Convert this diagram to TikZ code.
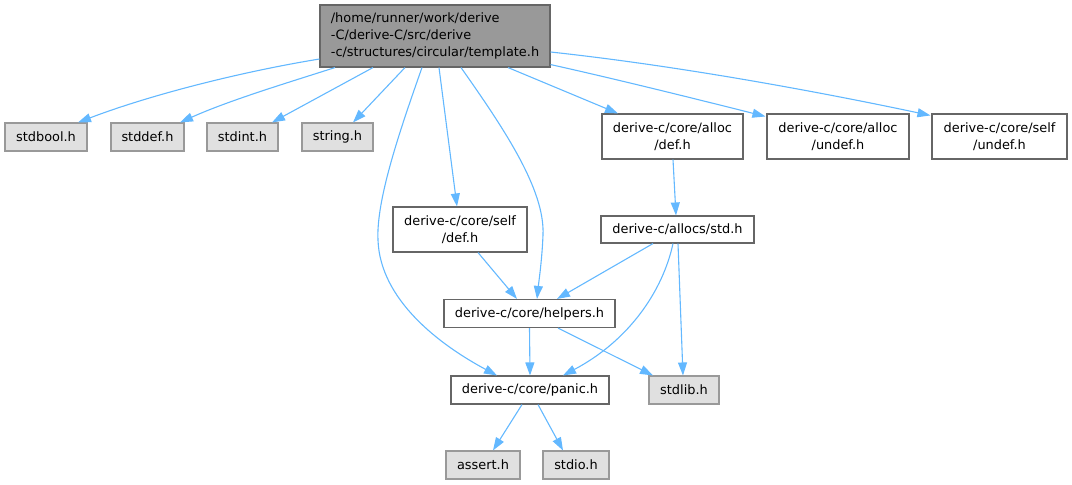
\documentclass[tikz,border=0pt]{standalone}
\usepackage{fontspec}
\setmainfont{DejaVu Sans}
\usetikzlibrary{arrows.meta,calc}
\definecolor{edgec}{HTML}{63B8FF}
\definecolor{boxline}{HTML}{666666}
\definecolor{sysline}{HTML}{999999}
\definecolor{sysfill}{HTML}{E0E0E0}
\definecolor{mainfill}{HTML}{999999}
\begin{document}
\begin{tikzpicture}[x=1pt,y=-1pt,
  every node/.style={font=\fontsize{12.9}{17}\selectfont, inner sep=0pt, line width=1.1pt},
  filebox/.style={draw=boxline, fill=white, align=center},
  sysbox/.style={draw=sysline, fill=sysfill, align=center},
  mainbox/.style={draw=boxline, fill=mainfill, align=left},
  dep/.style={draw=edgec, line width=1.1pt, -{Triangle[length=13pt,width=9pt]}}
]
\useasboundingbox (0,0) rectangle (1072,485);
% nodes
\node[mainbox, minimum width=230, minimum height=62] (main) at (435,36)
  {/home/runner/work/derive\\-C/derive-C/src/derive\\-c/structures/circular/template.h};
\node[sysbox, minimum width=82, minimum height=28] (stdbool) at (46,137) {stdbool.h};
\node[sysbox, minimum width=73, minimum height=28] (stddef) at (147.5,137) {stddef.h};
\node[sysbox, minimum width=71, minimum height=28] (stdint) at (242.5,137) {stdint.h};
\node[sysbox, minimum width=71, minimum height=28] (string) at (337.5,137) {string.h};
\node[filebox, minimum width=141, minimum height=45] (allocdef) at (672.5,136.5) {derive-c/core/alloc\\/def.h};
\node[filebox, minimum width=142, minimum height=45] (allocundef) at (838,136.5) {derive-c/core/alloc\\/undef.h};
\node[filebox, minimum width=135, minimum height=45] (selfundef) at (999.5,136.5) {derive-c/core/self\\/undef.h};
\node[filebox, minimum width=134, minimum height=45] (selfdef) at (460,229.5) {derive-c/core/self\\/def.h};
\node[filebox, minimum width=153, minimum height=27] (allocsstd) at (677.5,229.5) {derive-c/allocs/std.h};
\node[filebox, minimum width=171, minimum height=28] (helpers) at (529.5,313.5) {derive-c/core/helpers.h};
\node[filebox, minimum width=158, minimum height=28] (panic) at (530,390) {derive-c/core/panic.h};
\node[sysbox, minimum width=70, minimum height=28] (stdlib) at (684,390) {stdlib.h};
\node[sysbox, minimum width=74, minimum height=28] (assert) at (483,465) {assert.h};
\node[sysbox, minimum width=66, minimum height=28] (stdio) at (576,465) {stdio.h};
% edges from main
\draw[dep] ($(main.west)+(0,23)$) .. controls (240,72) and (150,95) .. ($(stdbool.north)+(32,0)$);
\draw[dep] ($(main.south)+(-100,0)$) .. controls (290,82) and (230,100) .. ($(stddef.north)+(32.5,0)$);
\draw[dep] ($(main.south)+(-62,0)$) -- ($(stdint.north)+(29.5,0)$);
\draw[dep] ($(main.south)+(-30,0)$) -- ($(string.north)+(15.5,0)$);
\draw[dep] ($(main.south)+(-13,0)$) .. controls (400,130) and (376,200) .. (378,240)
   .. controls (380,300) and (440,345) .. ($(panic.north)+(-33,0)$);
\draw[dep] ($(main.south)+(4,0)$) -- ($(selfdef.north)+(-3,0)$);
\draw[dep] ($(main.south)+(26,0)$) .. controls (505,130) and (545,190) .. (543,235)
   .. controls (542,260) and (539,280) .. ($(helpers.north)+(7.5,0)$);
\draw[dep] ($(main.south)+(73,0)$) -- ($(allocdef.north)+(-54.5,0)$);
\draw[dep] ($(main.south east)+(0,-3)$) .. controls (620,80) and (700,100) .. ($(allocundef.north west)+(-1,3)$);
\draw[dep] ($(main.east)+(0,16)$) .. controls (680,66) and (820,92) .. ($(selfundef.north west)+(-1,2)$);
% other edges
\draw[dep] ($(allocdef.south)+(0.5,0)$) -- ($(allocsstd.north)+(-1.5,0)$);
\draw[dep] ($(selfdef.south)+(18,0)$) -- ($(helpers.north)+(-12.5,0)$);
\draw[dep] ($(allocsstd.south)+(-24.5,0)$) -- ($(helpers.north)+(27.5,0)$);
\draw[dep] ($(allocsstd.south)+(-4.5,0)$) .. controls (663,290) and (630,340) .. ($(panic.north)+(33,0)$);
\draw[dep] ($(allocsstd.south)+(0.5,0)$) -- ($(stdlib.north)+(-1,0)$);
\draw[dep] (helpers.south) -- (panic.north);
\draw[dep] ($(helpers.south)+(28.5,0)$) -- ($(stdlib.north)+(-31,0)$);
\draw[dep] ($(panic.south)+(-8,0)$) -- ($(assert.north)+(10,0)$);
\draw[dep] ($(panic.south)+(8,0)$) -- ($(stdio.north)+(-13,0)$);
\end{tikzpicture}
\end{document}
